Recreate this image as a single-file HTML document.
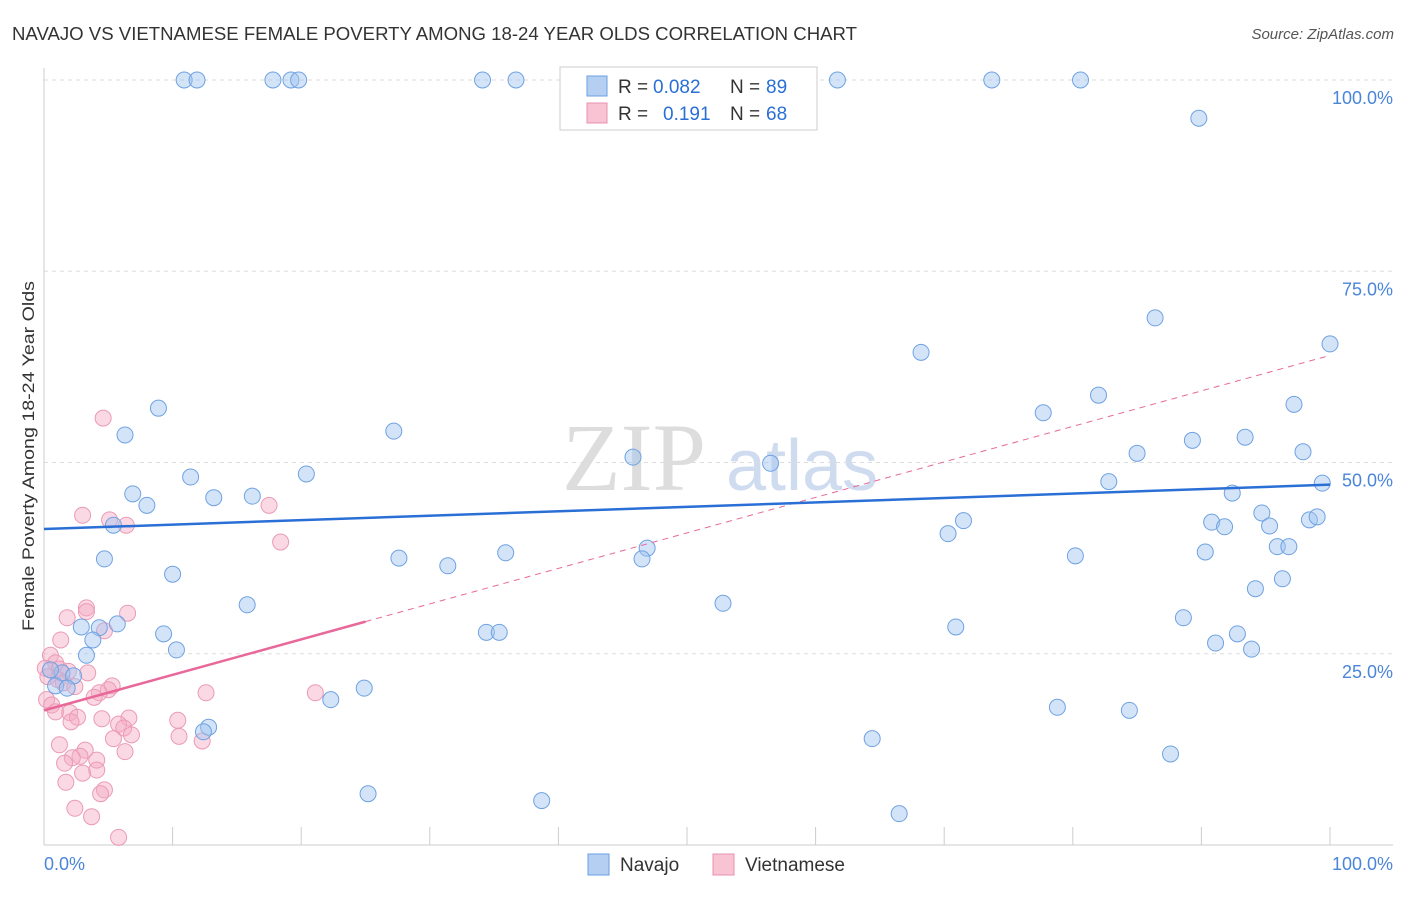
<!DOCTYPE html>
<html><head><meta charset="utf-8"><style>
body{margin:0;background:#fff;font-family:"Liberation Sans",sans-serif}
</style></head><body>
<svg id="chart" width="1406" height="892" xmlns="http://www.w3.org/2000/svg" font-family="Liberation Sans, sans-serif">
<text x="12" y="40" font-size="18" fill="#333" textLength="845" lengthAdjust="spacingAndGlyphs">NAVAJO VS VIETNAMESE FEMALE POVERTY AMONG 18-24 YEAR OLDS CORRELATION CHART</text>
<text x="1394" y="39" font-size="15" fill="#555" font-style="italic" text-anchor="end">Source: ZipAtlas.com</text>
<text transform="translate(34,456) rotate(-90)" font-size="17" fill="#333" text-anchor="middle" textLength="350" lengthAdjust="spacingAndGlyphs">Female Poverty Among 18-24 Year Olds</text>
<g>
<text x="634" y="490" font-size="96" fill="#ddd" font-family="Liberation Serif, serif" text-anchor="middle">ZIP</text>
<text x="802" y="490" font-size="72" fill="#cfdcf0" text-anchor="middle">atlas</text>
</g>
<g id="grid"></g><g id="axes"></g><g id="pts"></g><g id="trends"></g>
<g>
<rect x="560" y="67" width="257" height="63" fill="#fff" stroke="#ccc"/>
<rect x="587" y="76" width="20" height="20" fill="#b4cff2" stroke="#6a9fe0"/>
<rect x="587" y="103" width="20" height="20" fill="#f8c4d4" stroke="#e890b0"/>
<text x="618" y="93" font-size="19" fill="#333">R =</text>
<text x="653" y="93" font-size="19" fill="#2a6fd6">0.082</text>
<text x="730" y="93" font-size="19" fill="#333">N =</text>
<text x="766" y="93" font-size="19" fill="#2a6fd6">89</text>
<text x="618" y="120" font-size="19" fill="#333">R =</text>
<text x="663" y="120" font-size="19" fill="#2a6fd6">0.191</text>
<text x="730" y="120" font-size="19" fill="#333">N =</text>
<text x="766" y="120" font-size="19" fill="#2a6fd6">68</text>
</g>
<g>
<rect x="588" y="854" width="21" height="21" fill="#b4cff2" stroke="#6a9fe0"/>
<text x="620" y="871" font-size="19" fill="#333">Navajo</text>
<rect x="713" y="854" width="21" height="21" fill="#f8c4d4" stroke="#e890b0"/>
<text x="745" y="871" font-size="19" fill="#333">Vietnamese</text>
</g>
</svg>
<script>
const yTicks=[25,50,75,100];
const yTickLabels=["25.0%","50.0%","75.0%","100.0%"];
const navajoX=[10.9,11.9,17.8,19.2,19.8,34.1,36.7,61.7,73.7,80.6,89.8,86.4,68.2,100,77.7,82.0,97.2,8.9,6.3,27.2,85.0,89.3,93.4,97.9,45.8,56.5,11.4,20.4,6.9,13.2,16.2,8.0,82.8,92.4,99.4,5.4,71.5,90.8,91.8,94.7,95.3,98.4,99.0,70.3,4.7,27.6,31.4,35.9,46.9,46.5,80.2,90.3,95.9,96.8,10.0,96.3,94.2,15.8,52.8,88.6,2.9,4.3,5.7,3.8,9.3,34.4,35.4,70.9,91.1,92.8,93.9,10.3,3.3,1.4,2.3,0.5,0.9,1.8,24.9,22.3,78.8,84.4,12.8,12.4,64.4,87.6,25.2,38.7,66.5];
const navajoY=[100,100,100,100,100,100,100,100,100,100,95.0,68.9,64.4,65.5,56.5,58.8,57.6,57.1,53.6,54.1,51.2,52.9,53.3,51.4,50.7,49.9,48.1,48.5,45.9,45.4,45.6,44.4,47.5,46.0,47.3,41.8,42.4,42.2,41.6,43.4,41.7,42.5,42.9,40.7,37.4,37.5,36.5,38.2,38.8,37.4,37.8,38.3,39.0,39.0,35.4,34.8,33.5,31.4,31.6,29.7,28.5,28.4,28.9,26.8,27.6,27.8,27.8,28.5,26.4,27.6,25.6,25.5,24.8,22.5,22.1,22.9,20.8,20.5,20.5,19.0,18.0,17.6,15.4,14.8,13.9,11.9,6.7,5.8,4.1];
const vietX=[4.6,3.0,5.1,6.4,17.5,18.4,3.3,3.3,6.5,1.8,4.7,1.3,0.5,0.9,0.1,1.2,1.9,3.4,0.3,1.1,1.5,2.4,5.3,5.0,4.3,3.9,12.6,21.1,0.2,0.6,0.9,2.0,2.6,2.1,4.5,6.6,5.8,6.2,10.4,6.8,5.4,10.5,12.3,1.2,3.2,2.8,2.2,4.1,1.6,6.3,3.0,4.1,1.7,4.7,4.4,2.4,3.7,5.8];
const vietY=[55.8,43.1,42.5,41.8,44.4,39.6,31.0,30.5,30.3,29.7,28.0,26.8,24.8,23.8,23.1,23.0,22.7,22.5,22.0,21.6,21.2,20.7,20.8,20.3,19.9,19.3,19.9,19.9,19.0,18.3,17.4,17.3,16.7,16.1,16.5,16.6,15.8,15.3,16.3,14.4,13.9,14.2,13.6,13.1,12.4,11.6,11.4,11.1,10.7,12.2,9.4,9.8,8.2,7.2,6.7,4.8,3.7,1.0];
const navajoTrend=[41.3,47.1];
const vietTrend=[17.6,64.0];
const vietSolidEnd=25;
const NS="http://www.w3.org/2000/svg";
const X=v=>44+v*12.86, Y=v=>845-v*7.65;
function mk(tag,attrs,parent){const e=document.createElementNS(NS,tag);for(const k in attrs)e.setAttribute(k,attrs[k]);parent.appendChild(e);return e;}
const grid=document.getElementById('grid'),axes=document.getElementById('axes'),pts=document.getElementById('pts'),tr=document.getElementById('trends');
yTicks.forEach((t,i)=>{
 const l=mk('line',{x1:44,x2:1393,y1:Y(t),y2:Y(t),stroke:'#ddd','stroke-dasharray':'4,4'},grid);
 
 
 const tx=mk('text',{x:1393,y:Y(t)+24,'font-size':18,fill:'#4a86d8','text-anchor':'end'},axes);
 tx.textContent=yTickLabels[i];
 
 
});
const ax=mk('line',{x1:44,x2:1393,y1:845,y2:845,stroke:'#ccc'},axes);


const ay=mk('line',{x1:44,x2:44,y1:68,y2:845,stroke:'#ccc'},axes);


for(let i=0;i<=10;i++){const t=mk('line',{x1:X(i*10),x2:X(i*10),y1:827,y2:845,stroke:'#ccc'},axes);
 
 }
[[0,"0.0%",'start',44],[100,"100.0%",'end',1393]].forEach(d=>{const t=mk('text',{x:d[3],y:870,'font-size':18,fill:'#4a86d8','text-anchor':d[2]},axes);t.textContent=d[1];
 
 });
vietX.forEach((v,i)=>{const c=mk('circle',{cx:X(v),cy:Y(vietY[i]),r:8,fill:'rgba(244,170,196,0.45)',stroke:'#eb9ab6','stroke-width':1},pts);
 
 });
navajoX.forEach((v,i)=>{const c=mk('circle',{cx:X(v),cy:Y(navajoY[i]),r:8,fill:'rgba(160,196,240,0.45)',stroke:'#6fa2e2','stroke-width':1},pts);
 
 });
const vAt=x=>vietTrend[0]+(vietTrend[1]-vietTrend[0])*x/100;
let l=mk('line',{x1:X(0),y1:Y(vietTrend[0]),x2:X(vietSolidEnd),y2:Y(vAt(vietSolidEnd)),stroke:'#e8689a','stroke-width':2.5},tr);


l=mk('line',{x1:X(vietSolidEnd),y1:Y(vAt(vietSolidEnd)),x2:X(100),y2:Y(vietTrend[1]),stroke:'#e8689a','stroke-width':1,'stroke-dasharray':'6,5'},tr);


l=mk('line',{x1:X(0),y1:Y(navajoTrend[0]),x2:X(100),y2:Y(navajoTrend[1]),stroke:'#2a6fd6','stroke-width':2.5},tr);


</script>
</body></html>
